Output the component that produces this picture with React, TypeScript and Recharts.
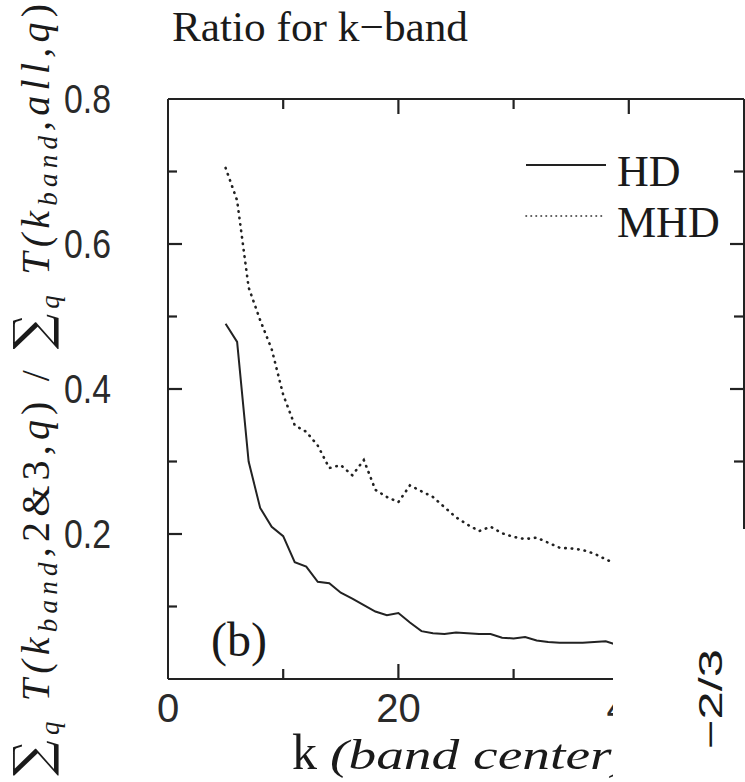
import React from 'react';
import { LineChart, Line, XAxis, YAxis, Legend } from 'recharts';

// k-band centres and the two ratio curves
const K = [5, 6, 7, 8, 9, 10, 11, 12, 13, 14, 15, 16, 17, 18, 19, 20, 21, 22, 23, 24, 25, 26, 27, 28, 29, 30, 31, 32, 33, 34, 35, 36, 37, 38, 39];
const HD_RATIO = [0.49, 0.465, 0.3, 0.236, 0.21, 0.197, 0.161, 0.155, 0.134, 0.132, 0.119, 0.111, 0.102, 0.093, 0.088, 0.091, 0.078, 0.066, 0.063, 0.062, 0.064, 0.063, 0.062, 0.062, 0.057, 0.056, 0.058, 0.053, 0.051, 0.05, 0.05, 0.05, 0.051, 0.052, 0.047];
const MHD_RATIO = [0.705, 0.66, 0.54, 0.495, 0.455, 0.392, 0.35, 0.341, 0.322, 0.291, 0.295, 0.281, 0.302, 0.261, 0.251, 0.244, 0.267, 0.259, 0.251, 0.237, 0.223, 0.213, 0.204, 0.21, 0.201, 0.196, 0.193, 0.195, 0.188, 0.181, 0.18, 0.178, 0.173, 0.165, 0.158];

const X_TICKS = [0, 10, 20, 30, 40, 50];
const X_LABELS = [0, 20, 40];
const Y_TICKS = [0, 0.1, 0.2, 0.3, 0.4, 0.5, 0.6, 0.7, 0.8];
const Y_LABELS = [0.2, 0.4, 0.6, 0.8];

const SERIES = [
    { key: 'hd', name: 'HD', dash: undefined },
    { key: 'mhd', name: 'MHD', dash: '0.5 6' },
];

const data = K.map((k, i) => ({ k, hd: HD_RATIO[i], mhd: MHD_RATIO[i] }));

// plot box in page pixels
const W = 745;
const H = 782;
const PL = 168;
const PR = 744;
const PT = 99;
const PB = 679;
const INK = '#222';

const tenths = (v: number) => Math.round(v * 10);
const isYLabel = (v: number) => Y_LABELS.some((l) => tenths(l) === tenths(v));

// left tick draws the inward mark on both the left and the mirrored right frame
function LeftTick(props: any) {
    const { payload } = props;
    const v = payload.value;
    const y = payload.coordinate;
    const major = isYLabel(v);
    const inside = tenths(v) > 0 && tenths(v) < 8;
    return (
        <g>
            {inside && <path d={`M${PL},${y}h${major ? 14 : 9}`} stroke={INK} strokeWidth={2.2} fill="none" />}
            {inside && <path d={`M${PR},${y}h${major ? -14 : -10}`} stroke={INK} strokeWidth={2.2} fill="none" />}
            {major && (
                <text x={111} y={y + 14} textAnchor="end" fontFamily="Liberation Sans" fontSize={40} fill="#2a2a2a"
                    textLength={47} lengthAdjust="spacingAndGlyphs">
                    {v.toFixed(1)}
                </text>
            )}
        </g>
    );
}

// bottom tick also mirrors its mark onto the top frame
function BottomTick(props: any) {
    const { payload } = props;
    const v = payload.value;
    const x = payload.coordinate;
    const major = X_LABELS.includes(v);
    const inside = v > 0 && v < 50;
    return (
        <g>
            {inside && <path d={`M${x},${PB}v${major ? -15 : -10}`} stroke={INK} strokeWidth={2.2} fill="none" />}
            {inside && <path d={`M${x},${PT}v${major ? 15 : 10}`} stroke={INK} strokeWidth={2.2} fill="none" />}
            {major && (
                <text x={x} y={722} textAnchor="middle" fontFamily="Liberation Sans" fontSize={40} fill="#2a2a2a">
                    {v}
                </text>
            )}
        </g>
    );
}

function LegendBox(props: any) {
    const items = props.payload && props.payload.length ? props.payload : SERIES.map((s) => ({ value: s.name, payload: { strokeDasharray: s.dash } }));
    return (
        <svg width={225} height={115} style={{ display: 'block' }}>
            {items.map((it: any, i: number) => {
                const y = 20 + i * 51;
                const dashed = !!(it.payload && it.payload.strokeDasharray);
                return (
                    <g key={it.value}>
                        <line x1={6} x2={86} y1={y} y2={y} stroke={INK}
                            strokeWidth={dashed ? 1.6 : 2}
                            strokeDasharray={dashed ? '0.5 4.5' : undefined}
                            strokeLinecap={dashed ? 'round' : 'butt'} />
                        <text x={97} y={y + 21} fontFamily="Liberation Serif" fontSize={44} fill="#1a1a1a">{it.value}</text>
                    </g>
                );
            })}
        </svg>
    );
}

export default function App() {
    return (
        <div style={{ position: 'absolute', left: 0, top: 0, width: W, height: H, background: '#fff', overflow: 'hidden' }}>
            <LineChart width={W} height={H} data={data} margin={{ top: PT - 1, right: W - PR - 1, bottom: H - PB - 60, left: PL - 100 }}>
                <XAxis xAxisId="bottom" dataKey="k" type="number" domain={[0, 50]} ticks={X_TICKS} interval={0}
                    height={60} axisLine={{ stroke: INK, strokeWidth: 2 }} tickLine={false} tick={<BottomTick />} />
                <XAxis xAxisId="top" orientation="top" dataKey="k" type="number" domain={[0, 50]} ticks={X_TICKS}
                    height={1} axisLine={{ stroke: INK, strokeWidth: 2 }} tickLine={false} tick={false} />
                <YAxis yAxisId="left" type="number" domain={[0, 0.8]} ticks={Y_TICKS} interval={0} width={100}
                    axisLine={{ stroke: INK, strokeWidth: 2 }} tickLine={false} tick={<LeftTick />} />
                <YAxis yAxisId="right" orientation="right" type="number" domain={[0, 0.8]} ticks={Y_TICKS} width={1}
                    axisLine={{ stroke: INK, strokeWidth: 2 }} tickLine={false} tick={false} />
                <Legend layout="horizontal" align="center" verticalAlign="middle"
                    wrapperStyle={{ position: 'absolute', left: 520, top: 145, width: 225, height: 115 }}
                    content={<LegendBox />} />
                <Line xAxisId="bottom" yAxisId="left" type="linear" dataKey="hd" name="HD" stroke={INK} strokeWidth={2}
                    dot={false} isAnimationActive={false} />
                <Line xAxisId="bottom" yAxisId="left" type="linear" dataKey="mhd" name="MHD" stroke={INK} strokeWidth={2.6}
                    strokeDasharray="0.5 6" strokeLinecap="round" dot={false} isAnimationActive={false} />
            </LineChart>

            <svg width={W} height={H} style={{ position: 'absolute', left: 0, top: 0, pointerEvents: 'none' }}>
                <text x={320} y={41} textAnchor="middle" fontFamily="Liberation Serif" fontSize={42} fill="#1a1a1a"
                    textLength={296} lengthAdjust="spacingAndGlyphs">
                    Ratio for k−band
                </text>
                <text transform="translate(49,390) rotate(-90)" textAnchor="middle" fontFamily="Liberation Serif" fontSize={40}
                    fill="#1a1a1a" textLength={772} lengthAdjust="spacing">
                    <tspan fontFamily="DejaVu Serif" fontSize={50}>∑</tspan>
                    <tspan fontStyle="italic" fontSize={27} dy={10}>q</tspan>
                    <tspan fontStyle="italic" dy={-10}> T(k</tspan>
                    <tspan fontStyle="italic" fontSize={27} dy={8}>band</tspan>
                    <tspan dy={-8}>,2&amp;3,</tspan>
                    <tspan fontStyle="italic">q</tspan>
                    <tspan>) / </tspan>
                    <tspan fontFamily="DejaVu Serif" fontSize={50}>∑</tspan>
                    <tspan fontStyle="italic" fontSize={27} dy={10}>q</tspan>
                    <tspan fontStyle="italic" dy={-10}> T(k</tspan>
                    <tspan fontStyle="italic" fontSize={27} dy={8}>band</tspan>
                    <tspan fontStyle="italic" dy={-8}>,all,q</tspan>
                    <tspan>)</tspan>
                </text>
                <text x={211} y={656} fontFamily="Liberation Serif" fontSize={48} fill="#1a1a1a">(b)</text>
                <text x={292} y={769} fontFamily="Liberation Serif" fontSize={50} fill="#1a1a1a">k</text>
                <text x={330} y={769} fontFamily="Liberation Serif" fontStyle="italic" fontSize={42} fill="#1a1a1a"
                    textLength={300} lengthAdjust="spacingAndGlyphs">(band center)</text>
                {/* cropped-away corner of the original figure */}
                <rect x={613} y={529} width={W - 613} height={H - 529} fill="#fff" />
                <text transform="translate(722,699) rotate(-90)" textAnchor="middle" fontFamily="Liberation Sans" fontSize={34}
                    fill="#1a1a1a" textLength={100} lengthAdjust="spacingAndGlyphs">−2/3</text>
            </svg>
        </div>
    );
}
